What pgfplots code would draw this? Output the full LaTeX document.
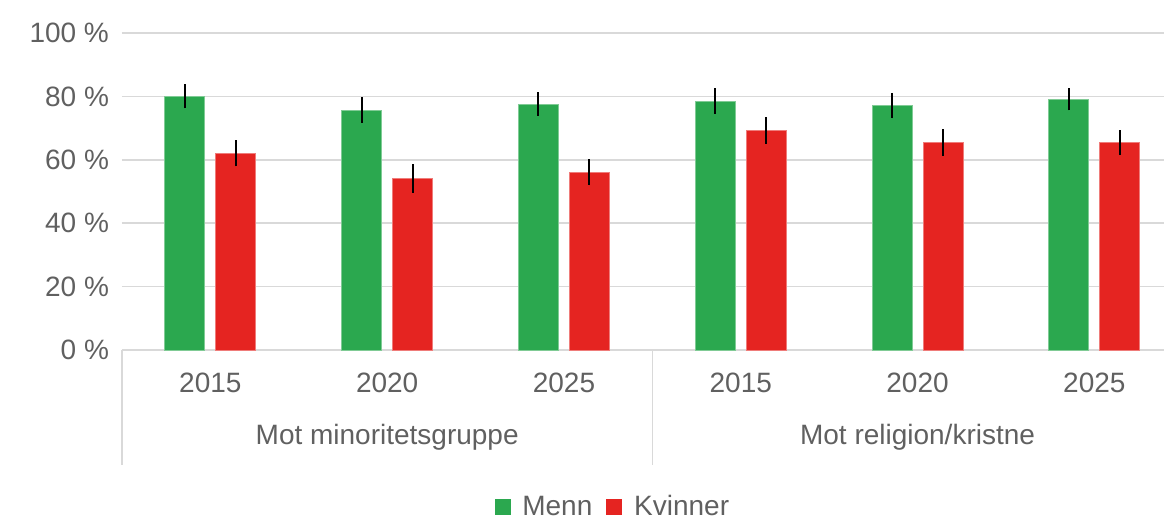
\documentclass[border=0pt]{standalone}
\usepackage{fontspec}
\setmainfont{Liberation Sans}
\usepackage{pgfplots}
\pgfplotsset{compat=1.18}
\definecolor{mgreen}{HTML}{2BA84F}
\definecolor{mred}{HTML}{E52421}
\definecolor{txt}{HTML}{606060}
\definecolor{gridc}{HTML}{D9D9D9}
\begin{document}
\begin{tikzpicture}[font=\fontsize{14}{17}\selectfont]
\path[use as bounding box] (-61pt,-85pt) rectangle (521pt,175pt);
\begin{axis}[
  at={(0,0)}, anchor=south west,
  width=521pt, height=158.5pt, scale only axis,
  xmin=-0.5, xmax=5.394, ymin=0, ymax=100,
  enlargelimits=false, clip=false,
  ybar, bar width=20pt,
  xtick={0,1,2,3,4,5},
  xticklabels={2015,2020,2025,2015,2020,2025},
  ytick={0,20,40,60,80,100},
  yticklabels={0 \%,20 \%,40 \%,60 \%,80 \%,100 \%},
  major tick length=0pt,
  xtick style={draw=none}, ytick style={draw=none},
  ymajorgrids, grid style={gridc, line width=0.75pt},
  axis x line*=bottom, axis y line*=left,
  x axis line style={gridc, line width=0.75pt, -},
  y axis line style={draw=none},
  yticklabel style={txt, xshift=-3pt},
  xticklabel style={txt, anchor=center, yshift=-16.5pt},
  legend style={at={(0.472,-0.495)}, anchor=center, draw=none, fill=none,
    legend columns=2, text=txt,
    /tikz/every odd column/.append style={column sep=4pt},
    /tikz/every even column/.append style={column sep=5pt}},
  legend cell align=left,
]
\addplot[forget plot, bar shift=-12.75pt, fill=mgreen, draw=mgreen!60!white, line width=0.4pt,
  error bars/.cd, y dir=both, y explicit, error mark=none,
  error bar style={black, line width=1pt}]
  coordinates {(0,80) +- (0,3.8) (1,75.7) +- (0,4.0) (2,77.6) +- (0,3.7)
               (3,78.5) +- (0,4.0) (4,77.1) +- (0,4.0) (5,79.1) +- (0,3.5)};
\addplot[forget plot, bar shift=12.75pt, fill=mred, draw=mred!60!white, line width=0.4pt,
  error bars/.cd, y dir=both, y explicit, error mark=none,
  error bar style={black, line width=1pt}]
  coordinates {(0,62.0) +- (0,4.1) (1,54.1) +- (0,4.5) (2,56.0) +- (0,4.1)
               (3,69.2) +- (0,4.2) (4,65.4) +- (0,4.2) (5,65.4) +- (0,3.9)};
\addlegendimage{legend image code/.code={\fill[mgreen] (0pt,-3.75pt) rectangle (7.5pt,3.75pt);}}
\addlegendentry{Menn}
\addlegendimage{legend image code/.code={\fill[mred] (0pt,-3.75pt) rectangle (7.5pt,3.75pt);}}
\addlegendentry{Kvinner}
\draw[gridc, line width=0.75pt] (axis cs:-0.5,0) -- ++(0pt,-57.5pt);
\draw[gridc, line width=0.75pt] (axis cs:2.5,0) -- ++(0pt,-57.5pt);
\node[txt, yshift=-43.5pt] at (axis cs:1,0) {Mot minoritetsgruppe};
\node[txt, yshift=-43.5pt] at (axis cs:4,0) {Mot religion/kristne};
\end{axis}
\end{tikzpicture}
\end{document}
